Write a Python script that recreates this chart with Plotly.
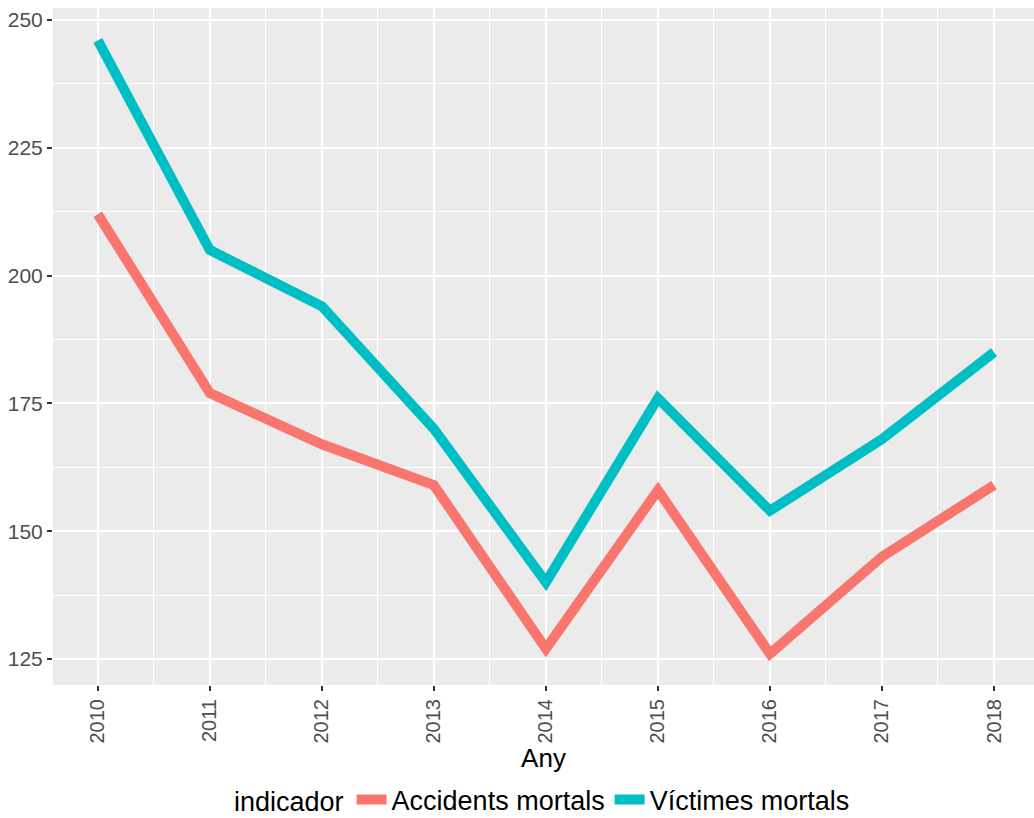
import plotly.graph_objects as go

years = [2010, 2011, 2012, 2013, 2014, 2015, 2016, 2017, 2018]
accidents = [212, 177, 167, 159, 127, 158, 126, 145, 159]
victimes = [246, 205, 194, 170, 140, 176, 154, 168, 185]
series_names = ["Accidents mortals", "Víctimes mortals"]
colors = ["#F8766D", "#00BFC4"]
y_ticks = [125, 150, 175, 200, 225, 250]

fig = go.Figure()
for name, vals, col in zip(series_names, [accidents, victimes], colors):
    fig.add_trace(go.Scatter(x=years, y=vals, mode="lines", name=name,
                             line=dict(color=col, width=10), hoverinfo="skip"))

font_family = "Liberation Sans, Arial, sans-serif"
fig.update_layout(
    width=1034, height=818,
    margin=dict(l=53, r=0, t=8, b=133),
    plot_bgcolor="#EBEBEB", paper_bgcolor="white",
    font=dict(family=font_family, color="black"),
    showlegend=True,
    legend=dict(orientation="h", x=0.5, xanchor="center",
                yref="container", y=0.022, yanchor="middle",
                title=dict(text="indicador", font=dict(size=27, color="black"), side="left"),
                font=dict(size=27, color="black"), itemwidth=30,
                bgcolor="rgba(0,0,0,0)"),
    xaxis=dict(range=[2009.6, 2018.357], tickmode="array", tickvals=years,
               ticktext=[str(y) for y in years], tickangle=-90,
               tickfont=dict(size=20, color="#4D4D4D"),
               ticks="outside", ticklen=5, tickwidth=1.5, tickcolor="#333333",
               showgrid=True, gridcolor="white", gridwidth=2,
               minor=dict(dtick=1, tick0=2009.5, showgrid=True, gridcolor="white", gridwidth=1),
               zeroline=False, showline=False, automargin=False,
               title=dict(text="Any", font=dict(size=26, color="black"), standoff=0)),
    yaxis=dict(range=[119.9, 252.35], tickmode="array", tickvals=y_ticks,
               tickfont=dict(size=21, color="#4D4D4D"),
               ticks="outside", ticklen=5, tickwidth=1.5, tickcolor="#333333",
               showgrid=True, gridcolor="white", gridwidth=2,
               minor=dict(dtick=25, tick0=112.5, showgrid=True, gridcolor="white", gridwidth=1),
               zeroline=False, showline=False, automargin=False),
)

fig.write_html("out.html", config={"displayModeBar": False},
               post_script="document.body.style.margin='0';document.body.style.overflow='hidden';")
